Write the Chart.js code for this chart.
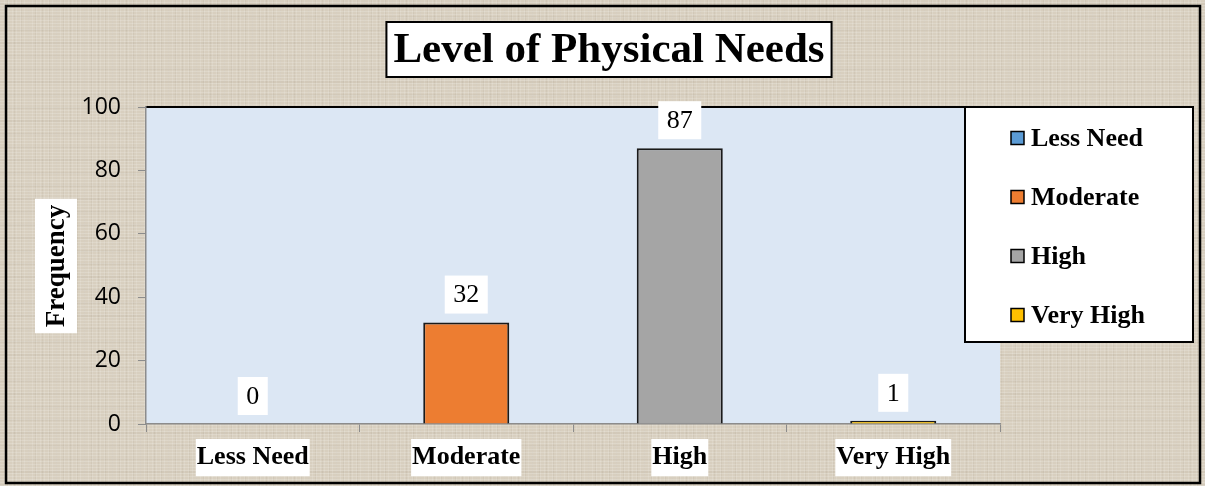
<!DOCTYPE html>
<html>
<head>
<meta charset="utf-8">
<script src="https://cdn.jsdelivr.net/npm/chart.js@4"></script>
<style>
  html, body { margin: 0; padding: 0; }
  body {
    width: 1205px; height: 486px; overflow: hidden;
    background-color: #d8cfbf;
    background-image:
      repeating-linear-gradient(0deg, rgba(255,255,255,0.16) 0 1px, transparent 1px 3px),
      repeating-linear-gradient(90deg, rgba(255,255,255,0.12) 0 1px, transparent 1px 4px),
      repeating-linear-gradient(90deg, rgba(120,105,85,0.07) 0 1px, transparent 1px 7px),
      repeating-linear-gradient(0deg, rgba(120,105,85,0.06) 0 2px, transparent 2px 13px);
  }
  #wrap { position: relative; width: 1205px; height: 486px; }
</style>
</head>
<body>
<div id="wrap"><canvas id="needsChart"></canvas></div>
<script>
var categories = ["Less Need", "Moderate", "High", "Very High"];
var frequency = [0, 32, 87, 1];
var barColors = ["#5b9bd5", "#ed7d31", "#a5a5a5", "#ffc000"];
var yTicks = [0, 20, 40, 60, 80, 100];
var chartTitle = "Level of Physical Needs";
var yTitle = "Frequency";

var SERIF = "'Liberation Serif', 'Times New Roman', serif";

// pale blue plot area, outer frame, title and axis title
const decorPlugin = {
    id: 'decor',
    beforeDraw(chart) {
        const ctx = chart.ctx;
        const a = chart.chartArea;
        ctx.save();
        ctx.fillStyle = "#dce7f4";
        ctx.fillRect(a.left, a.top, a.right - a.left, a.bottom - a.top);
        ctx.strokeStyle = "#000";
        ctx.lineWidth = 2;
        ctx.beginPath();
        ctx.moveTo(a.left, a.top);
        ctx.lineTo(a.right, a.top);
        ctx.stroke();
        ctx.restore();
    },
    afterDraw(chart) {
        const ctx = chart.ctx;
        ctx.save();
        // outer frame
        ctx.strokeStyle = "#000";
        ctx.lineWidth = 2.5;
        ctx.strokeRect(6, 6, 1194, 477);

        // title box
        ctx.font = "bold 43px " + SERIF;
        ctx.textAlign = "center";
        ctx.textBaseline = "middle";
        var tw = ctx.measureText(chartTitle).width;
        var cx = 609, cy = 50;
        ctx.fillStyle = "#fff";
        ctx.fillRect(cx - tw / 2 - 7, 22, tw + 14, 55);
        ctx.lineWidth = 2;
        ctx.strokeRect(cx - tw / 2 - 7, 22, tw + 14, 55);
        ctx.fillStyle = "#000";
        ctx.fillText(chartTitle, cx, cy + 1);

        // y axis title
        ctx.translate(56, 266);
        ctx.rotate(-Math.PI / 2);
        ctx.font = "bold 27px " + SERIF;
        var yw = ctx.measureText(yTitle).width;
        ctx.fillStyle = "#fff";
        ctx.fillRect(-yw / 2 - 6, -21, yw + 12, 42);
        ctx.fillStyle = "#000";
        ctx.fillText(yTitle, 0, 1);
        ctx.restore();

        // legend
        ctx.save();
        ctx.fillStyle = "#fff";
        ctx.fillRect(965, 107, 228, 235);
        ctx.strokeStyle = "#000";
        ctx.lineWidth = 2;
        ctx.strokeRect(965, 107, 228, 235);
        ctx.font = "bold 26px " + SERIF;
        ctx.textAlign = "left";
        ctx.textBaseline = "middle";
        for (var i = 0; i < categories.length; i++) {
            var ry = 138 + i * 59;
            ctx.fillStyle = barColors[i];
            ctx.fillRect(1011, ry - 6.5, 13, 13);
            ctx.lineWidth = 1.5;
            ctx.strokeStyle = "#000";
            ctx.strokeRect(1011, ry - 6.5, 13, 13);
            ctx.fillStyle = "#000";
            ctx.fillText(categories[i], 1031, ry + 1);
        }
        ctx.restore();
    }
};

// value labels in white boxes above each bar
const valueLabels = {
    id: 'valueLabels',
    afterDatasetsDraw(chart) {
        const ctx = chart.ctx;
        const meta = chart.getDatasetMeta(0);
        ctx.save();
        ctx.font = "26px " + SERIF;
        ctx.textAlign = "center";
        ctx.textBaseline = "middle";
        meta.data.forEach(function (bar, i) {
            var txt = String(frequency[i]);
            var w = ctx.measureText(txt).width + 17;
            var y = bar.y - 28;
            ctx.fillStyle = "#fff";
            ctx.fillRect(bar.x - w / 2, y - 19, w, 38);
            ctx.fillStyle = "#000";
            ctx.fillText(txt, bar.x, y + 1);
        });
        ctx.restore();
    }
};

const config = {
    type: 'bar',
    data: {
        labels: categories,
        datasets: [{
            data: frequency,
            backgroundColor: barColors,
            borderColor: "#1a1a1a",
            borderWidth: 2,
            categoryPercentage: 1,
            barPercentage: 0.403
        }]
    },
    options: {
        responsive: false,
        animation: false,
        layout: { padding: { top: 107, right: 205, bottom: 0, left: 0 } },
        plugins: {
            legend: { display: false },
            title: { display: false },
            tooltip: { enabled: false }
        },
        scales: {
            x: {
                grid: { display: true, drawOnChartArea: false, offset: true, tickLength: 8, color: "#8c8c8c" },
                border: { color: "#8c8c8c", width: 1.5 },
                ticks: {
                    color: "#000",
                    font: { family: SERIF, size: 26, weight: "bold" },
                    padding: 10,
                    showLabelBackdrop: true,
                    backdropColor: "#fff",
                    backdropPadding: { top: 3, bottom: 3, left: 1, right: 1 }
                },
                afterFit(scale) { scale.height = 62; }
            },
            y: {
                min: 0,
                max: 100,
                afterBuildTicks(scale) { scale.ticks = yTicks.map(function (v) { return { value: v }; }); },
                grid: { display: true, drawOnChartArea: false, tickLength: 8, color: "#8c8c8c" },
                border: { color: "#8c8c8c", width: 1.5 },
                ticks: {
                    color: "#000",
                    font: { family: "'Open Sans', sans-serif", size: 23 },
                    padding: 17
                },
                afterFit(scale) { scale.width = 146; }
            }
        }
    },
    plugins: [decorPlugin, valueLabels]
};

var canvas = document.getElementById("needsChart");
canvas.width = 1205;
canvas.height = 486;
new Chart(canvas, config);
</script>
</body>
</html>
